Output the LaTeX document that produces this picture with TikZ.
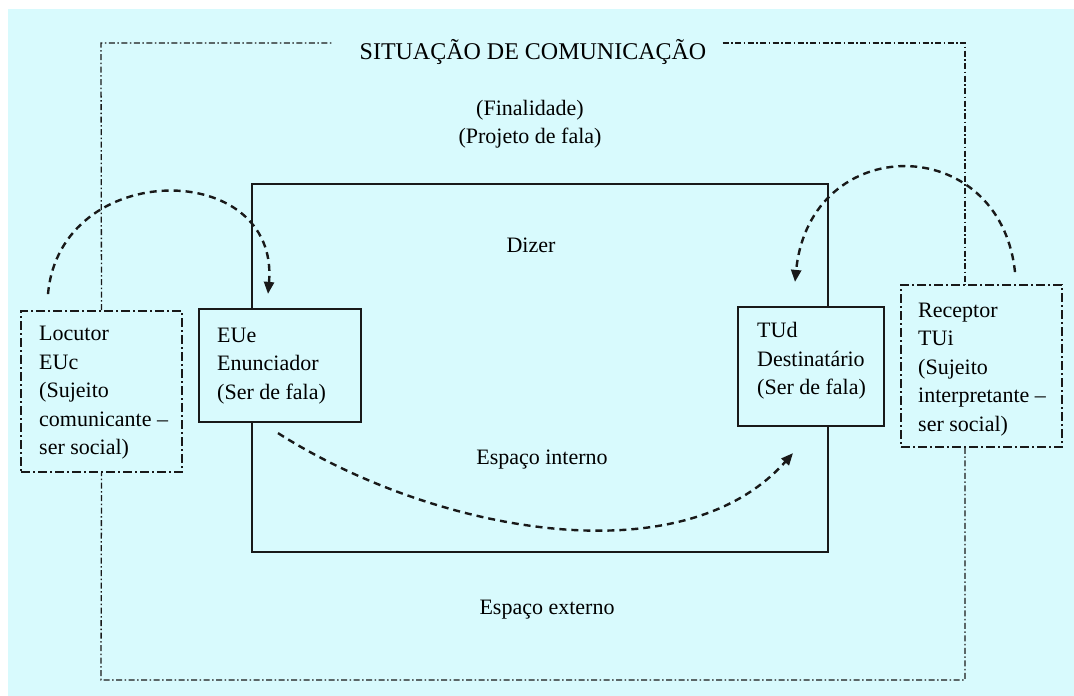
\documentclass[tikz,border=0pt]{standalone}
\usepackage{fontspec}
\setmainfont{Liberation Serif}
\usetikzlibrary{arrows.meta,calc}
\definecolor{bgc}{RGB}{216,250,253}
\definecolor{ink}{RGB}{25,25,25}
\begin{document}
\begin{tikzpicture}[x=1pt,y=-1pt,
  txt/.style={font=\fontsize{22}{28.5}\selectfont, inner sep=0pt, text=black},
  solidbox/.style={draw=ink, line width=2.2pt, fill=bgc, inner sep=0pt},
  dashbox/.style={draw=ink, line width=1.8pt, fill=bgc, inner sep=0pt, dash pattern=on 9pt off 3pt on 2pt off 3pt},
  frame/.style={draw=ink, line width=1.3pt, dash pattern=on 6pt off 2.5pt on 1.5pt off 2.5pt},
  arcline/.style={draw=ink, line width=2.4pt, dash pattern=on 7pt off 5pt, -{Triangle[length=12pt,width=10pt]}}]
\fill[white] (0,0) rectangle (1074,696);
\fill[bgc] (8,9) rectangle (1074,696);
\useasboundingbox (0,0) rectangle (1074,696);

% inner space
\node[draw=ink, line width=2.2pt, minimum width=576pt, minimum height=368pt, inner sep=0pt] (inner) at (540,368) {};

% texts
\node[txt, font=\fontsize{24}{28}\selectfont] (title) at (533,52) {SITUAÇÃO DE COMUNICAÇÃO};
\node[txt] (fin) at (530,110) {(Finalidade)};
\node[txt] (proj) at (530,138) {(Projeto de fala)};
\node[txt] (dizer) at (531,245) {Dizer};
\node[txt] (eint) at (542,460) {Espaço interno};
\node[txt] (eext) at (547,610) {Espaço externo};

% boxes
\node[dashbox, minimum width=161pt, minimum height=161pt] (loc) at (101.5,391.5) {};
\node[txt, anchor=west, align=left] (loct) at (39,393) {Locutor\\EUc\\(Sujeito\\comunicante –\\ser social)};
\node[solidbox, minimum width=162pt, minimum height=113pt] (eue) at (280,365.5) {};
\node[txt, anchor=west, align=left] (euet) at (217,366) {EUe\\Enunciador\\(Ser de fala)};
\node[solidbox, minimum width=146pt, minimum height=119pt] (tud) at (811,366.5) {};
\node[txt, anchor=west, align=left] (tudt) at (757,361) {TUd\\Destinatário\\(Ser de fala)};
\node[dashbox, minimum width=161pt, minimum height=162pt] (rec) at (981.5,366) {};
\node[txt, anchor=west, align=left] (rect) at (918,369.5) {Receptor\\TUi\\(Sujeito\\interpretante –\\ser social)};

% outer frame
\coordinate (tl) at (101,43);
\coordinate (tr) at (965,43);
\coordinate (bl) at (101,680);
\coordinate (br) at (965,680);
\draw[frame] (loc.north) -- (tl) -- ($(tl -| title.west)+(-26,0)$);
\draw[frame] ($(tr -| title.east)+(16,0)$) -- (tr) -- (tr |- rec.north);
\draw[frame] (tr |- rec.south) -- (br) -- (bl) -- (loc.south);

% arcs
\coordinate (a1s) at ($(loc.north)+(-53.5,-16)$);
\coordinate (a1e) at ($(eue.north)+(-12,-14)$);
\draw[arcline] (a1s) .. controls (60,158) and (280,158) .. (a1e);
\coordinate (a2s) at ($(rec.north)+(33.5,-12)$);
\coordinate (a2e) at ($(tud.north)+(-16,-24)$);
\draw[arcline] (a2s) .. controls (1000,131) and (810,131) .. (a2e);
\coordinate (a3s) at ($(eue.south)+(-2,10)$);
\coordinate (a3e) at ($(tud.south)+(-18,26)$);
\draw[arcline] (a3s) .. controls (430,530) and (680,580) .. (a3e);
\end{tikzpicture}
\end{document}
